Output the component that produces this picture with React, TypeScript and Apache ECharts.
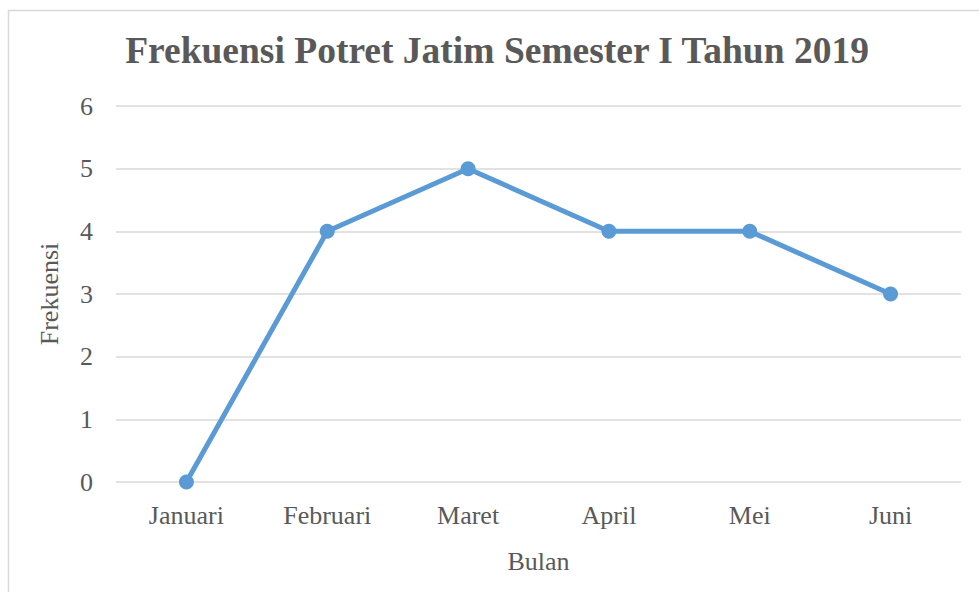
import React, { useEffect, useRef } from "react";
import * as echarts from "echarts";

const categories = ["Januari", "Februari", "Maret", "April", "Mei", "Juni"];
const frekuensi = [0, 4, 5, 4, 4, 3];
const titleText = "Frekuensi Potret Jatim Semester I Tahun 2019";
const xAxisName = "Bulan";
const yAxisName = "Frekuensi";

const FONT = "'Liberation Serif', 'Times New Roman', serif";
const TEXT = "#595959";

export default function App() {
  const ref = useRef<HTMLDivElement>(null);
  useEffect(() => {
    const chart = echarts.init(ref.current!, null, { renderer: "svg" });
    chart.setOption({
      animation: false,
      backgroundColor: "#ffffff",
      title: {
        text: titleText,
        left: 492,
        textAlign: "center",
        top: 26,
        textStyle: { fontFamily: FONT, fontSize: 37.5, fontWeight: "bold", color: TEXT },
      },
      graphic: [
        {
          type: "rect",
          shape: { x: 8.5, y: 10.5, width: 1000, height: 700 },
          style: { fill: "none", stroke: "#d9d9d9", lineWidth: 1.5 },
          silent: true,
          z: -1,
        },
      ],
      grid: { left: 116, right: 18, top: 106, bottom: 110, containLabel: false },
      xAxis: {
        type: "category",
        data: categories,
        boundaryGap: true,
        axisLine: { show: false },
        axisTick: { show: false },
        axisLabel: { fontFamily: FONT, fontSize: 26, color: TEXT, margin: 20 },
        name: xAxisName,
        nameLocation: "middle",
        nameGap: 66,
        nameTextStyle: { fontFamily: FONT, fontSize: 26, color: TEXT },
      },
      yAxis: {
        type: "value",
        min: 0,
        max: 6,
        interval: 1,
        axisLine: { show: false },
        axisTick: { show: false },
        splitLine: { lineStyle: { color: "#d9d9d9", width: 1.5 } },
        axisLabel: { fontFamily: FONT, fontSize: 26, color: TEXT, margin: 23 },
        name: yAxisName,
        nameLocation: "middle",
        nameGap: 54,
        nameRotate: 90,
        nameTextStyle: { fontFamily: FONT, fontSize: 26, color: TEXT },
      },
      series: [
        {
          type: "line",
          data: frekuensi,
          symbol: "circle",
          symbolSize: 15,
          lineStyle: { color: "#5b9bd5", width: 5 },
          itemStyle: { color: "#5b9bd5" },
        },
      ],
    });
    return () => chart.dispose();
  }, []);
  return <div ref={ref} style={{ width: 979, height: 592, position: "absolute", left: 0, top: 0 }} />;
}
